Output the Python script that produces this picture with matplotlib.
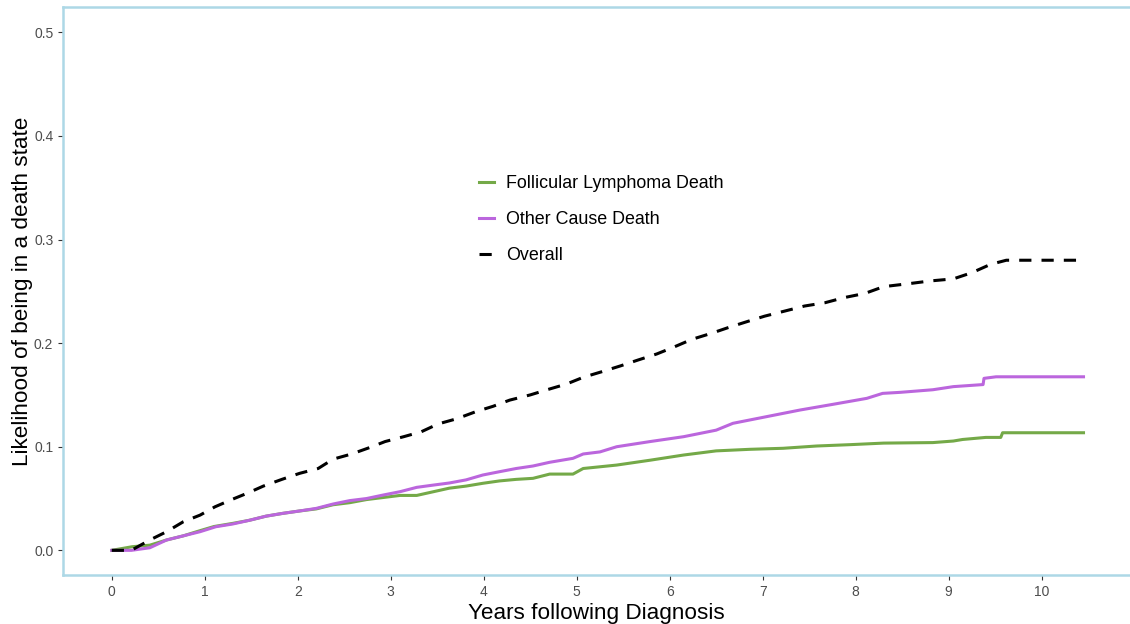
import matplotlib.pyplot as plt

plt.rcParams["font.family"] = ["Liberation Sans", "DejaVu Sans"]

# Overall (dashed)
overall_t = [0, 0.21, 0.41, 0.59, 0.77, 0.95, 1.11, 1.29, 1.47, 1.63, 1.83, 2.02, 2.22, 2.38,
             2.58, 2.78, 2.94, 3.14, 3.33, 3.51, 3.71, 3.92, 4.10, 4.28, 4.50, 4.67, 4.89,
             5.07, 5.27, 5.47, 5.66, 5.86, 6.04, 6.24, 6.45, 6.63, 6.83, 7.02, 7.24, 7.45,
             7.67, 7.88, 8.10, 8.30, 8.60, 8.80, 9.05, 9.25, 9.45, 9.62, 10.45]
overall_p = [0, 0.0, 0.010, 0.018, 0.0276, 0.034, 0.042, 0.049, 0.0556, 0.062, 0.0685, 0.0743,
             0.079, 0.088, 0.093, 0.0994, 0.105, 0.1097, 0.1145, 0.122, 0.127, 0.134, 0.139,
             0.145, 0.150, 0.1547, 0.1605, 0.167, 0.1724, 0.178, 0.1837, 0.1895, 0.196,
             0.2037, 0.2095, 0.215, 0.2207, 0.226, 0.231, 0.2358, 0.239, 0.244, 0.248,
             0.2545, 0.2577, 0.260, 0.262, 0.268, 0.276, 0.280, 0.280]

# Other cause death
other_t = [0, 0.21, 0.41, 0.59, 0.77, 0.95, 1.12, 1.30, 1.48, 1.66, 1.84, 2.02, 2.20, 2.38,
           2.56, 2.74, 2.92, 3.10, 3.28, 3.46, 3.63, 3.81, 3.99, 4.17, 4.35, 4.53, 4.71,
           4.96, 5.07, 5.25, 5.43, 5.79, 6.15, 6.50, 6.68, 7.04, 7.40, 7.76, 8.12, 8.29,
           8.48, 8.83, 9.05, 9.37, 9.38, 9.51, 10.45]
other_p = [0, 0.0, 0.0025, 0.010, 0.014, 0.018, 0.0228, 0.0254, 0.029, 0.033, 0.0357, 0.038,
           0.0405, 0.0447, 0.048, 0.050, 0.0534, 0.0566, 0.0608, 0.063, 0.065, 0.068, 0.0727,
           0.0759, 0.079, 0.0814, 0.085, 0.0888, 0.093, 0.095, 0.100, 0.105, 0.1097, 0.116,
           0.1226, 0.129, 0.1354, 0.141, 0.1467, 0.1515, 0.1525, 0.155, 0.158, 0.160, 0.166,
           0.1675, 0.1675]

# Follicular lymphoma death
fl_t = [0, 0.22, 0.41, 0.59, 0.77, 0.95, 1.10, 1.30, 1.48, 1.66, 1.84, 2.02, 2.20, 2.38, 2.56,
        2.74, 2.92, 3.10, 3.28, 3.46, 3.63, 3.81, 3.99, 4.17, 4.35, 4.53, 4.71, 4.96, 5.07,
        5.43, 5.79, 6.15, 6.50, 6.86, 7.22, 7.58, 7.94, 8.30, 8.83, 9.05, 9.15, 9.40, 9.56,
        9.58, 10.45]
fl_p = [0, 0.0035, 0.005, 0.010, 0.014, 0.019, 0.023, 0.026, 0.029, 0.033, 0.0357, 0.038,
        0.040, 0.044, 0.046, 0.049, 0.051, 0.053, 0.053, 0.0566, 0.060, 0.062, 0.0647, 0.067,
        0.0685, 0.0695, 0.0736, 0.0736, 0.079, 0.0823, 0.087, 0.092, 0.096, 0.0975, 0.0985,
        0.1007, 0.102, 0.1035, 0.104, 0.1055, 0.107, 0.109, 0.109, 0.1135, 0.1135]

x_ticks = list(range(0, 11))
y_ticks = [0.0, 0.1, 0.2, 0.3, 0.4, 0.5]

fig = plt.figure(figsize=(11.3, 6.24), dpi=100)
ax = fig.add_axes([63 / 1130, 49 / 624, 1 - 63 / 1130, (575 - 6.7) / 624])

ax.plot(fl_t, fl_p, color="#74A948", lw=2.2, label="Follicular Lymphoma Death")
ax.plot(other_t, other_p, color="#BB66DD", lw=2.2, label="Other Cause Death")
ax.plot(overall_t, overall_p, color="black", lw=2.2, ls=(0, (4, 3.3)), label="Overall")

ax.set_xlim(-0.524, 10.95)
ax.set_ylim(-0.0238, 0.5247)
ax.set_xticks(x_ticks)
ax.set_xticklabels([str(v) for v in x_ticks])
ax.set_yticks(y_ticks)
ax.set_yticklabels([f"{v:.1f}" for v in y_ticks])
ax.tick_params(colors="#333333", labelcolor="#4D4D4D", labelsize=10, length=3.5, width=0.8)

for side in ["left", "bottom", "top"]:
    ax.spines[side].set_color("#ADD8E6")
    ax.spines[side].set_linewidth(1.8)
ax.spines["right"].set_visible(False)

ax.set_xlabel("Years following Diagnosis", fontsize=16.2, labelpad=3)
ax.set_ylabel("Likelihood of being in a death state", fontsize=16.2, labelpad=1)

ax.legend(loc="upper left", bbox_to_anchor=(479 / 1130, 1 - 175.5 / 624),
          bbox_transform=fig.transFigure, frameon=False, fontsize=12.9,
          handlelength=0.85, handletextpad=0.65, labelspacing=1.05,
          borderpad=0, borderaxespad=0)

fig.savefig("out.png", dpi=100)
